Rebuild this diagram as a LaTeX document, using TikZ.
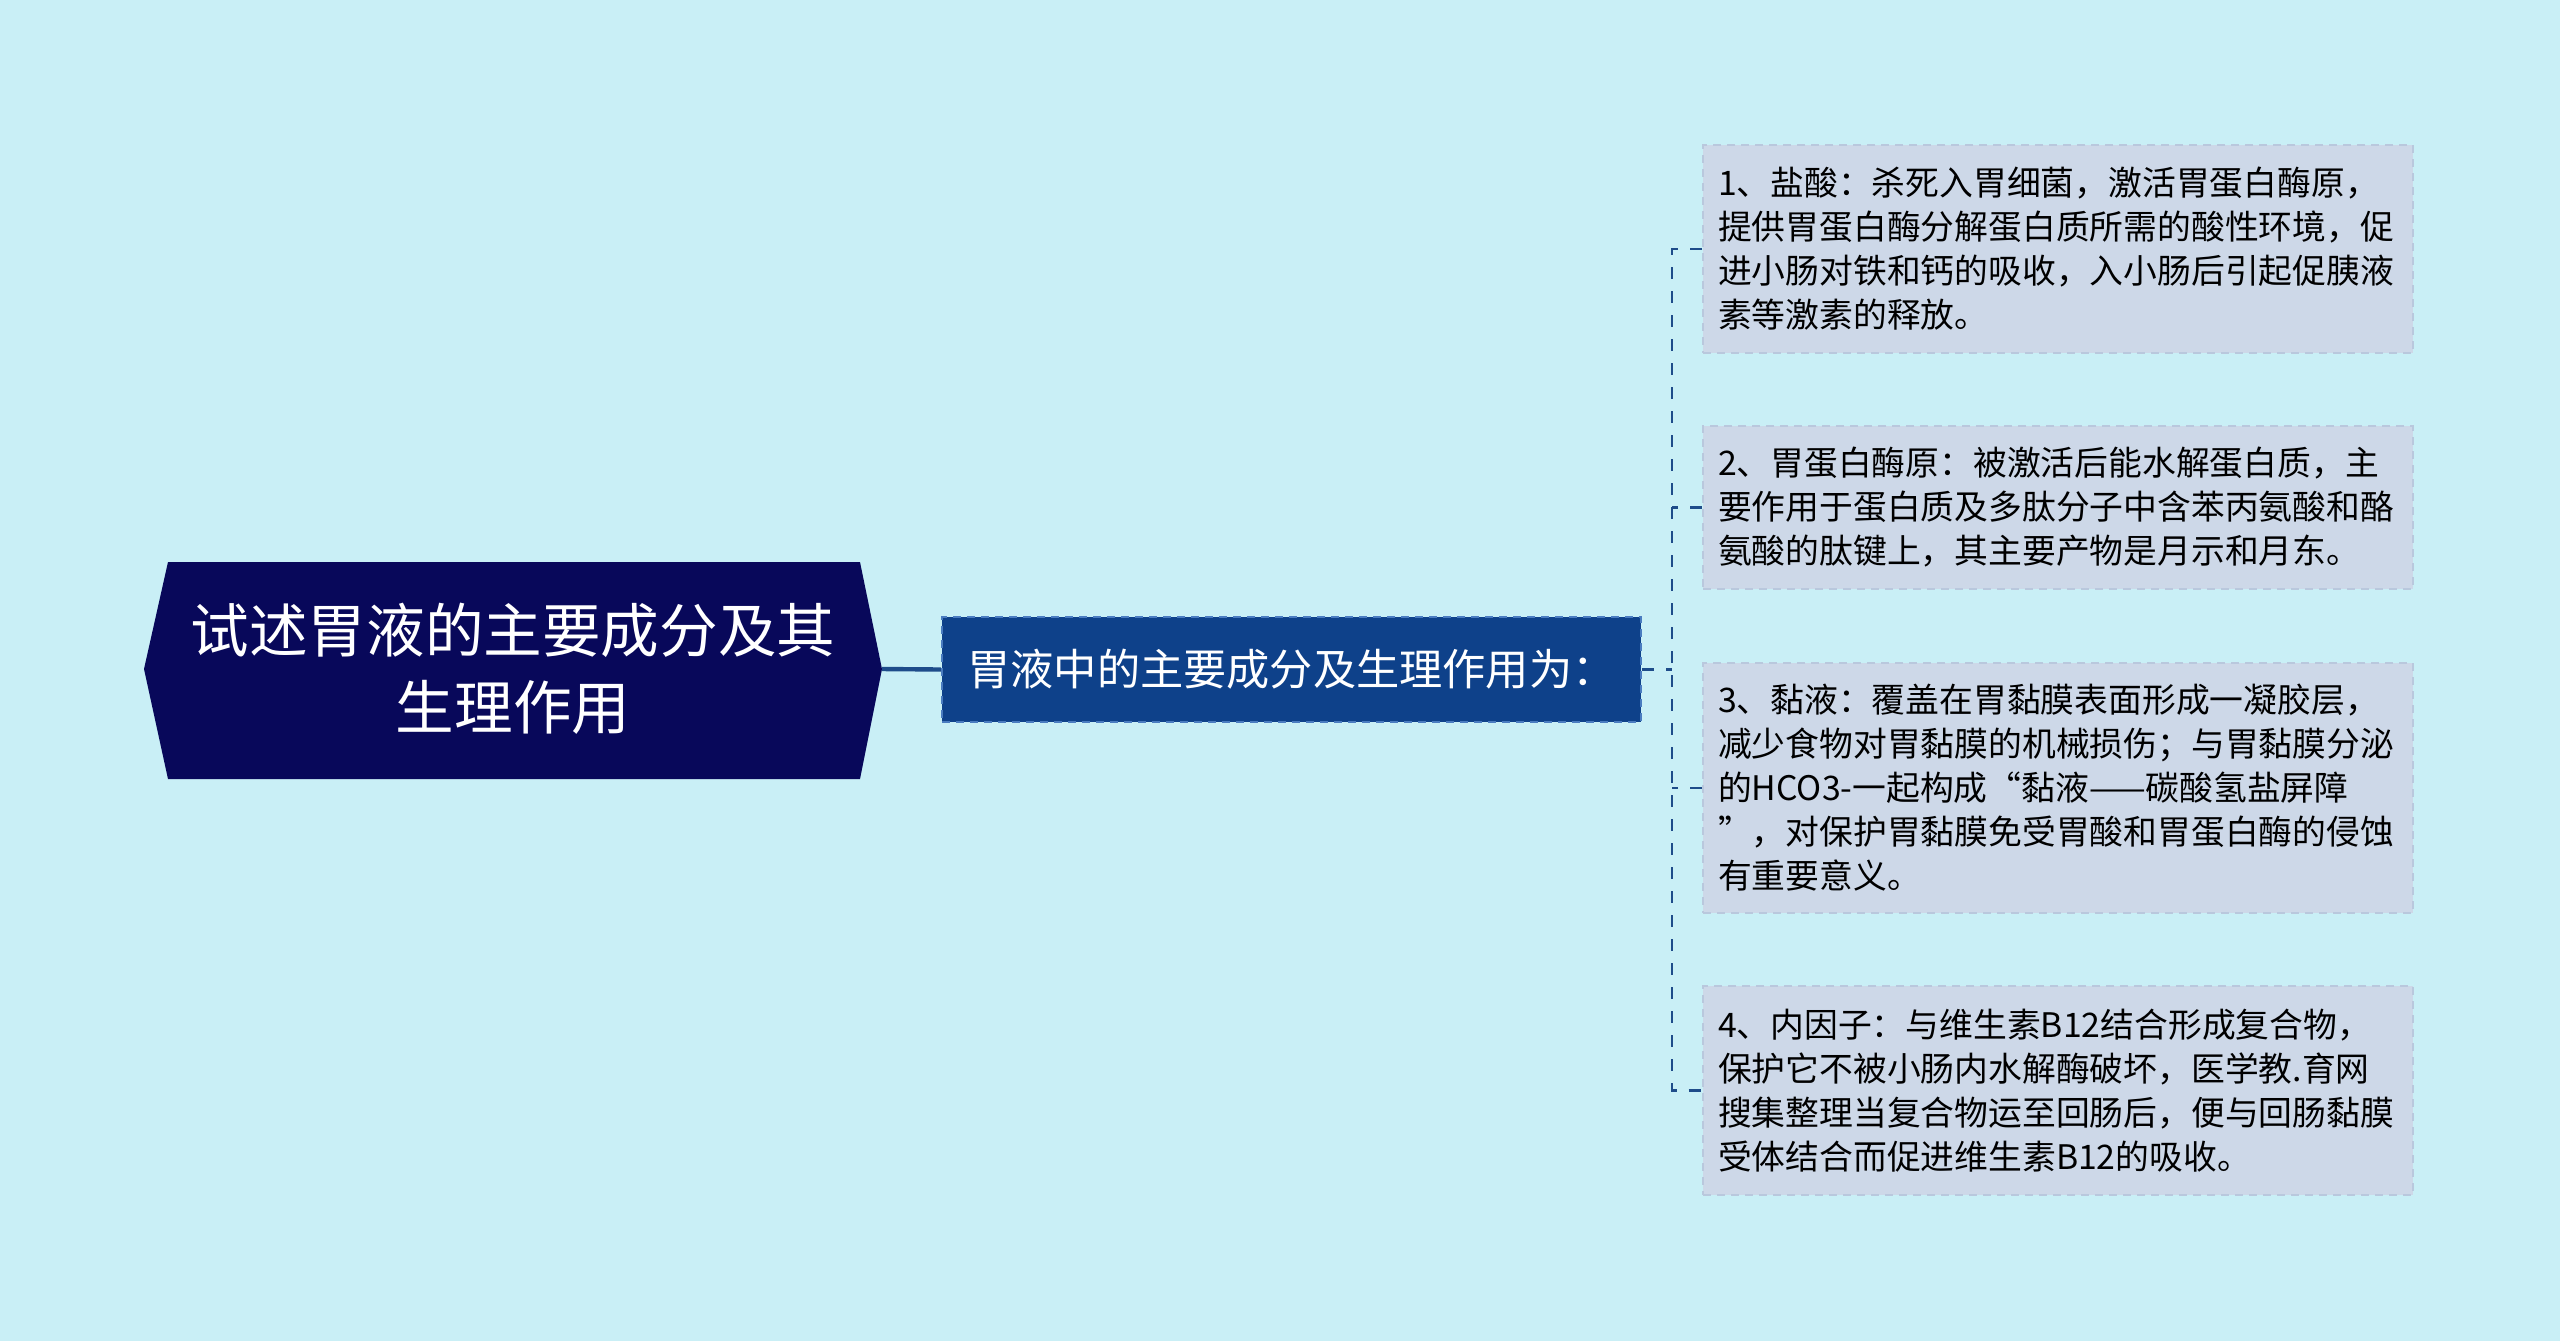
\documentclass[tikz,border=0pt]{standalone}
\usepackage{fontspec}
\newfontfamily\cjk{Noto Sans CJK SC}
\definecolor{bgc}{HTML}{C9EFF6}
\definecolor{navy}{HTML}{08085A}
\definecolor{midblue}{HTML}{0E418A}
\definecolor{midborder}{HTML}{4A7CC0}
\definecolor{boxfill}{HTML}{CDD8E8}
\definecolor{boxborder}{HTML}{B9C8DD}
\definecolor{linec}{HTML}{1E4C8A}
\begin{document}
\begin{tikzpicture}[x=0.5pt,y=-0.5pt,
  midbox/.style={draw=midborder, dashed, dash pattern=on 4pt off 3pt, line width=1.2pt, fill=midblue, text=white,
    minimum width=349.5pt, minimum height=52.5pt, inner sep=0pt, font=\cjk\fontsize{21.6pt}{27pt}\selectfont},
  leafbox/.style={draw=boxborder, dashed, dash pattern=on 4pt off 3pt, line width=1pt, fill=boxfill, text=black,
    text width=340pt, inner xsep=7.5pt, inner ysep=0pt, align=left, minimum width=355pt,
    font=\cjk\fontsize{16.9pt}{22pt}\selectfont},
  conn/.style={draw=linec, line width=1.3pt, dash pattern=on 6pt off 6pt},
  title/.style={text=white, align=center, font=\cjk\fontsize{29.3pt}{38.5pt}\selectfont}
]
\fill[bgc] (0,0) rectangle (2560,1341);
\useasboundingbox (0,0) rectangle (2560,1341);

% main hexagon node
\fill[navy] (168,562) -- (860,562) -- (882,669) -- (860,779) -- (168,779) -- (144,669) -- cycle;
\coordinate (mainr) at (882,669);
\node[title] (main) at (513,669) {试述胃液的主要成分及其\\生理作用};

% middle node
\node[midbox] (mid) at (1291.5,669.5) {胃液中的主要成分及生理作用为：};

% leaves
\node[leafbox, minimum height=104pt] (b1) at (2058,249) {1、盐酸：杀死入胃细菌，激活胃蛋白酶原，\\提供胃蛋白酶分解蛋白质所需的酸性环境，促\\进小肠对铁和钙的吸收，入小肠后引起促胰液\\素等激素的释放。};
\node[leafbox, minimum height=81.5pt] (b2) at (2058,507.5) {2、胃蛋白酶原：被激活后能水解蛋白质，主\\要作用于蛋白质及多肽分子中含苯丙氨酸和酪\\氨酸的肽键上，其主要产物是月示和月东。};
\node[leafbox, minimum height=125pt] (b3) at (2058,788) {3、黏液：覆盖在胃黏膜表面形成一凝胶层，\\减少食物对胃黏膜的机械损伤；与胃黏膜分泌\\的HCO3-一起构成“黏液——碳酸氢盐屏障\\”，对保护胃黏膜免受胃酸和胃蛋白酶的侵蚀\\有重要意义。};
\node[leafbox, minimum height=104.5pt] (b4) at (2058,1090.5) {4、内因子：与维生素B12结合形成复合物，\\保护它不被小肠内水解酶破坏，医学教.育网\\搜集整理当复合物运至回肠后，便与回肠黏膜\\受体结合而促进维生素B12的吸收。};

% connectors
\draw[draw=linec, line width=2.2pt] (mainr) -- (mid.west);
\coordinate (sp) at (1672,669.5);
\draw[conn] (mid.east) -- (sp);
\draw[conn] (b1.west) -- (b1.west -| sp) -- (b4.west -| sp) -- (b4.west);
\draw[conn] (b2.west) -- (b2.west -| sp);
\draw[conn] (b3.west) -- (b3.west -| sp);
\end{tikzpicture}
\end{document}
